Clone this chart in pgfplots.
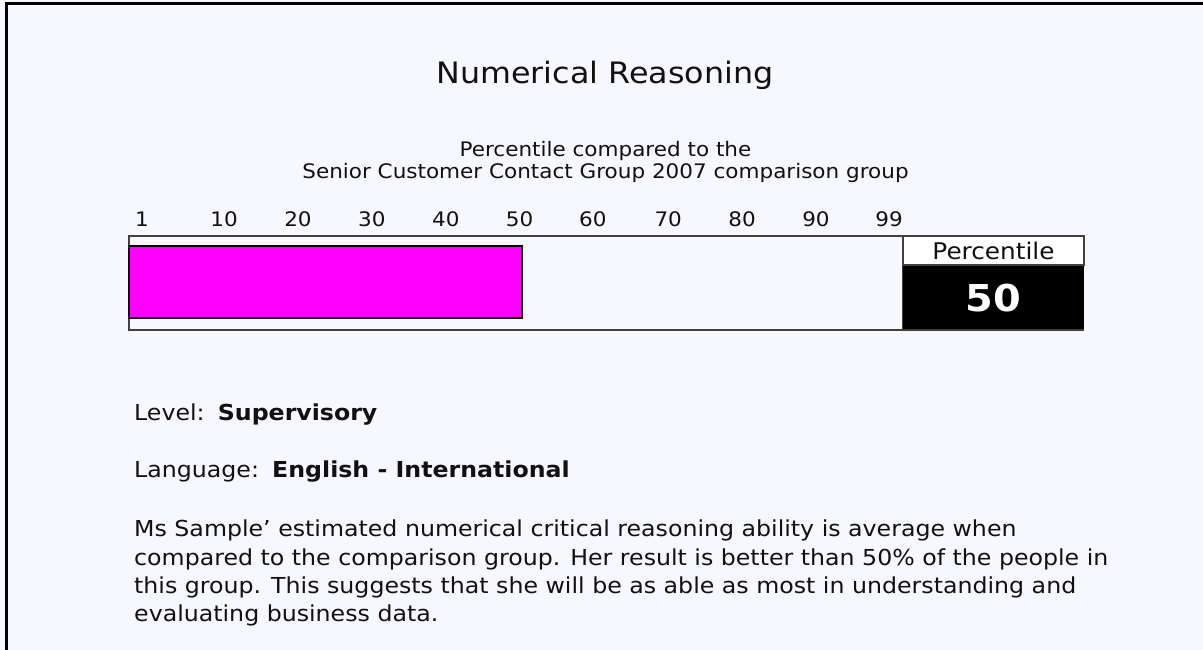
\documentclass[border=0pt]{standalone}
\usepackage{pgfplots}
\pgfplotsset{compat=1.18}
\usepackage{fontspec}
\setmainfont{DejaVu Sans}[FakeStretch=1.076]
\definecolor{bgc}{HTML}{F7F8FD}
\definecolor{boxc}{HTML}{404040}
\definecolor{txt}{HTML}{111111}
\definecolor{barc}{HTML}{FF00FF}
\begin{document}
\begin{tikzpicture}[x=1pt,y=1pt]
\useasboundingbox (0,0) rectangle (1203,650);
\fill[bgc] (0,0) rectangle (1203,650);
% frame
\fill[black] (5,644.5) rectangle (1203,647.5);
\fill[black] (5,0) rectangle (8,647.5);
% titles
\node[anchor=base,inner sep=0,font=\fontsize{29.5}{36}\selectfont,text=txt] at (605,566) {Numerical Reasoning};
\node[anchor=base,inner sep=0,font=\fontsize{20}{24}\selectfont,text=txt] at (605.5,493) {Percentile compared to the};
\node[anchor=base,inner sep=0,font=\fontsize{20}{24}\selectfont,text=txt] at (605.5,471) {Senior Customer Contact Group 2007 comparison group};
% axis
\begin{axis}[
  at={(129pt,320pt)}, anchor=south west,
  width=774pt, height=94pt, scale only axis,
  xmin=0, xmax=98.47, ymin=0, ymax=1,
  axis background/.style={fill=bgc},
  axis line style={draw=boxc, line width=1.5pt},
  xtick={1.65,12.1,21.5,30.9,40.3,49.7,59.0,68.6,78.0,87.4,96.7},
  xticklabels={1,10,20,30,40,50,60,70,80,90,99},
  xticklabel pos=upper,
  major tick length=0pt,
  ytick=\empty,
  xticklabel style={anchor=base, yshift=9pt, font=\fontsize{20}{24}\selectfont, text=txt},
  /pgf/number format/assume math mode=true,
  clip=false,
]
\addplot[xbar, bar width=72pt, fill=barc, draw=black, line width=1.5pt] coordinates {(50,0.511)};
\end{axis}
% percentile box
\fill[black] (903,320) rectangle (1084,385);
\filldraw[fill=white, draw=boxc, line width=1.5pt] (903,385) rectangle (1084,414);
\draw[boxc, line width=1.5pt] (903,320) -- (1084,320);
\node[anchor=base,inner sep=0,font=\fontsize{23}{27}\selectfont,text=txt] at (993.5,390.7) {Percentile};
\node[anchor=base,inner sep=0,font=\bfseries\fontsize{37}{40}\selectfont,text=white] at (993.5,338.3) {50};
% text
\begin{scope}[every node/.style={anchor=base west,inner sep=0,font=\fontsize{22}{26}\selectfont,text=txt}]
\node at (134,229.3) {Level:\hspace{0.6em}\textbf{Supervisory}};
\node at (134,172) {Language:\hspace{0.6em}\textbf{English - International}};
\node at (134,113) {Ms Sample' estimated numerical critical reasoning ability is average when};
\node at (134,84.7) {compared to the comparison group. Her result is better than 50\% of the people in};
\node at (134,56.4) {this group. This suggests that she will be as able as most in understanding and};
\node at (134,28) {evaluating business data.};
\end{scope}
\end{tikzpicture}
\end{document}
